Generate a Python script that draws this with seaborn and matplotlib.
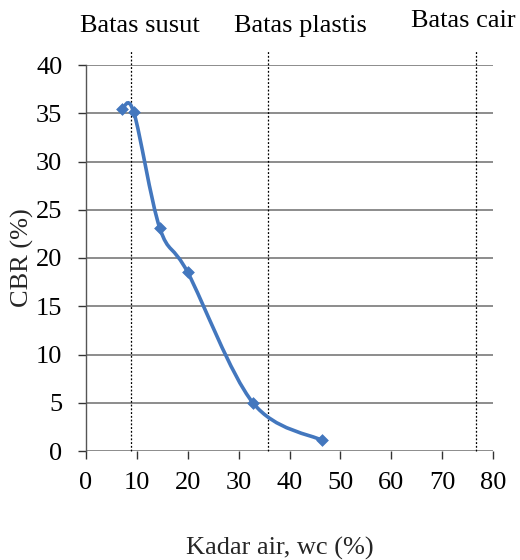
import numpy as np
import pandas as pd
import seaborn as sns
import matplotlib.pyplot as plt
from matplotlib.path import Path
from matplotlib.patches import PathPatch

#%% data
kadar_air = [7.1, 9.4, 14.5, 20.0, 32.8, 46.4]
cbr = [35.4, 35.1, 23.1, 18.5, 5.0, 1.1]

batas_nama = ["Batas susut", "Batas plastis", "Batas cair"]
batas_nilai = [8.8, 35.7, 76.6]
batas_label_x = [10.6, 42.2, 74.2]
batas_label_y = [44.0, 44.0, 44.6]

df = pd.DataFrame({"wc": kadar_air, "cbr": cbr})

#%% style
sns.set_theme(style="white")
plt.rcParams["font.family"] = ["Liberation Serif", "DejaVu Serif"]
fs = 19

fig = plt.figure(figsize=(5.2, 5.6), dpi=100)
ax = fig.add_axes([86 / 520, 1 - 451 / 560, 407 / 520, 386 / 560])

# smoothed line (Excel-like bezier through the points)
x = np.array(kadar_air)
y = np.array(cbr)
n = len(x)
verts = [(x[0], y[0])]
codes = [Path.MOVETO]
t = 1 / 6
for i in range(n - 1):
    p0 = np.array([x[max(i - 1, 0)], y[max(i - 1, 0)]])
    p1 = np.array([x[i], y[i]])
    p2 = np.array([x[i + 1], y[i + 1]])
    p3 = np.array([x[min(i + 2, n - 1)], y[min(i + 2, n - 1)]])
    c1 = p1 + (p2 - p0) * t
    c2 = p2 - (p3 - p1) * t
    verts += [tuple(c1), tuple(c2), tuple(p2)]
    codes += [Path.CURVE4] * 3
ax.add_patch(PathPatch(Path(verts, codes), fill=False, edgecolor="#4377BE", lw=2.6, zorder=3))

sns.scatterplot(data=df, x="wc", y="cbr", marker="D", s=36, color="#4377BE",
                edgecolor="#4377BE", ax=ax, zorder=4)

# batas lines
ax.vlines(batas_nilai, 0, 41.6, colors="black", linestyles=(0, (1.5, 1.5)), lw=0.9, clip_on=False, zorder=2)
for nama, lx, ly in zip(batas_nama, batas_label_x, batas_label_y):
    ax.text(lx, ly, nama, ha="center", va="center", fontsize=fs, color="black")

#%% axes
ax.set_xlim(0, 80)
ax.set_ylim(0, 40)
ax.set_xticks(range(0, 81, 10))
ax.set_yticks(range(0, 41, 5))
ax.yaxis.grid(True, color="#8c8c8c", lw=1.4)
ax.set_axisbelow(True)
for s in ["top", "right", "bottom"]:
    ax.spines[s].set_visible(False)
ax.spines["left"].set_color("#555555")
ax.spines["left"].set_linewidth(1.0)
ax.tick_params(axis="both", which="both", direction="out", length=6, width=1,
               color="#333333", labelsize=fs, labelcolor="black")
ax.tick_params(axis="x", pad=9)
ax.tick_params(axis="y", pad=11)
ax.xaxis.set_ticks_position("bottom")
ax.yaxis.set_ticks_position("left")

ax.set_xlabel("")
ax.set_ylabel("")
fig.text(22 / 520, 1 - 258 / 560, "CBR (%)", ha="center", va="center", rotation=90, fontsize=fs)
fig.text(280 / 520, 1 - 548 / 560, "Kadar air, wc (%)", ha="center", va="center", fontsize=fs)

fig.savefig("out.png", dpi=100)
